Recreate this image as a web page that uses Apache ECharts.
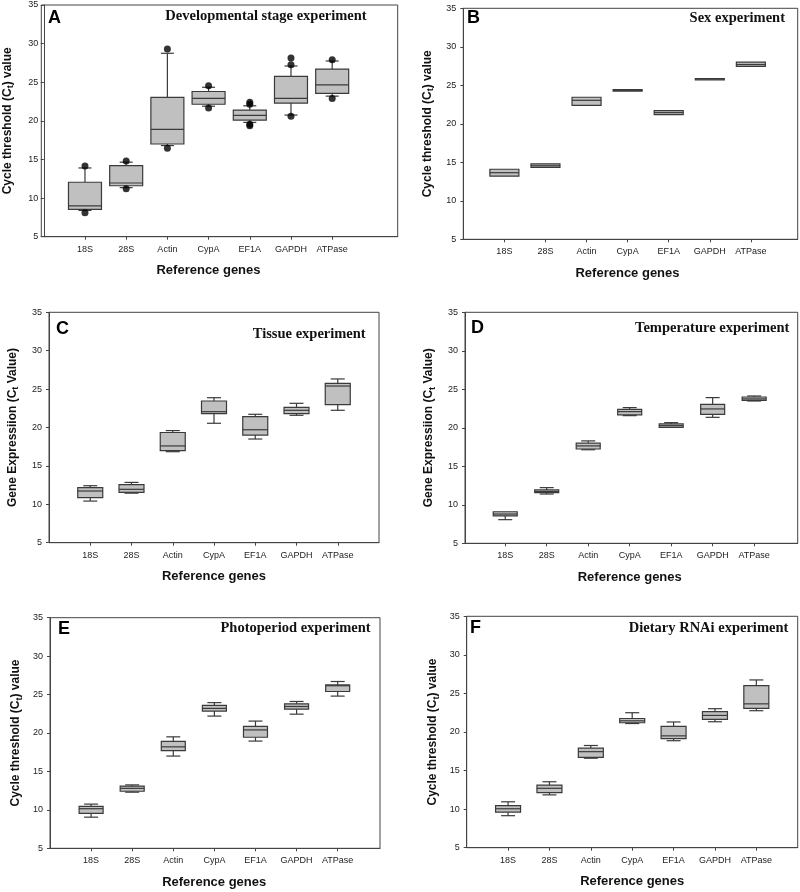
<!DOCTYPE html>
<html>
<head>
<meta charset="utf-8">
<script src="https://cdn.jsdelivr.net/npm/echarts@6/dist/echarts.min.js"></script>
<style>html,body{margin:0;padding:0;background:#fff}#c{width:800px;height:892px}</style>
</head>
<body>
<div id="c"></div>
<script>
// ---- data ----
const genes = ['18S', '28S', 'Actin', 'CypA', 'EF1A', 'GAPDH', 'ATPase'];
const yTicks = [5, 10, 15, 20, 25, 30, 35];

// each row: [lower whisker, Q1, median, Q3, upper whisker]
const devStageBoxes = [
  [8.4, 8.55, 9.0, 12.05, 13.9],
  [11.35, 11.6, 11.95, 14.2, 14.65],
  [16.8, 17.0, 18.9, 23.05, 28.75],
  [21.9, 22.15, 22.9, 23.8, 24.35],
  [19.8, 20.1, 20.7, 21.4, 21.95],
  [20.75, 22.3, 22.9, 25.75, 27.1],
  [23.2, 23.55, 24.65, 26.7, 27.75]
];
// outliers: [gene index (1-based), value]
const devStageOutliers = [
  [1, 14.15], [1, 8.1], [2, 14.8], [2, 11.2], [3, 29.3], [3, 16.45],
  [4, 24.55], [4, 21.65], [5, 22.4], [5, 22.15], [5, 19.35], [5, 19.55],
  [6, 28.15], [6, 27.25], [6, 20.6], [7, 27.9], [7, 22.9]
];
const sexBoxes = [
  [13.2, 13.2, 13.65, 14.1, 14.1],
  [14.35, 14.35, 14.55, 14.8, 14.8],
  [22.4, 22.4, 23.05, 23.45, 23.45],
  [24.25, 24.25, 24.35, 24.45, 24.45],
  [21.2, 21.2, 21.45, 21.7, 21.7],
  [25.72, 25.72, 25.8, 25.88, 25.88],
  [27.45, 27.45, 27.7, 28.0, 28.0]
];
const tissueBoxes = [
  [10.42, 10.86, 11.73, 12.16, 12.42],
  [11.45, 11.55, 11.95, 12.55, 12.85],
  [16.85, 17.0, 17.6, 19.35, 19.6],
  [20.55, 21.8, 22.06, 23.45, 23.88],
  [18.5, 19.02, 19.71, 21.41, 21.72],
  [21.59, 21.8, 22.24, 22.63, 23.15],
  [22.24, 22.97, 25.4, 25.75, 26.32]
];
const temperatureBoxes = [
  [8.07, 8.55, 8.8, 9.1, 9.15],
  [11.4, 11.58, 11.72, 11.93, 12.23],
  [17.15, 17.25, 17.65, 18.0, 18.3],
  [21.58, 21.67, 22.1, 22.4, 22.62],
  [20.0, 20.06, 20.28, 20.5, 20.67],
  [21.36, 21.75, 22.45, 23.05, 23.92],
  [23.48, 23.57, 23.75, 24.0, 24.13]
];
const photoperiodBoxes = [
  [9.05, 9.55, 10.15, 10.45, 10.75],
  [12.3, 12.42, 12.8, 13.1, 13.25],
  [17.0, 17.7, 18.2, 18.9, 19.5],
  [22.2, 22.85, 23.2, 23.6, 23.95],
  [18.95, 19.45, 20.4, 20.85, 21.55],
  [22.45, 23.1, 23.45, 23.8, 24.1],
  [24.8, 25.4, 26.15, 26.25, 26.7]
];
const rnaiBoxes = [
  [9.15, 9.6, 10.05, 10.45, 10.95],
  [11.85, 12.15, 12.7, 13.1, 13.55],
  [16.6, 16.7, 17.45, 17.9, 18.25],
  [21.1, 21.2, 21.45, 21.75, 22.5],
  [18.87, 19.13, 19.5, 20.73, 21.3],
  [21.33, 21.64, 22.15, 22.63, 23.02],
  [22.76, 23.07, 23.65, 26.0, 26.75]
];

// ---- layout ----
const ctName = '{n|Cycle threshold (C}{s|t}{n|) value}';
const geName = '{n|Gene Expressiion (C}{s|t}{n| Value)}';
const panels = [
  {letter: 'A', title: 'Developmental stage experiment', yName: ctName, boxes: devStageBoxes, outliers: devStageOutliers,
   l: 41.3, r: 397.7, t: 5, b: 236.7, xmin: -0.06, xmax: 8.59, boxW: 33, capW: 13, yGap: 26, xGap: 27, ylm: 3, xShift: 11,
   tx: 366.7, ty: 16.7, lx: 48, ly: 18},
  {letter: 'B', title: 'Sex experiment', yName: ctName, boxes: sexBoxes, outliers: [],
   l: 463.3, r: 797.7, t: 8.3, b: 239.3, xmin: 0.0, xmax: 8.14, boxW: 29, capW: 0, yGap: 28, xGap: 28, ylm: 7, xShift: 3,
   tx: 785, ty: 18.3, lx: 467, ly: 18},
  {letter: 'C', title: 'Tissue experiment', yName: geName, boxes: tissueBoxes, outliers: [],
   l: 49, r: 379, t: 312.3, b: 542.7, xmin: 0.0, xmax: 8.0, boxW: 25, capW: 14, yGap: 28.5, xGap: 27, ylm: 7, xShift: 0,
   tx: 365.7, ty: 334.3, lx: 56, ly: 329},
  {letter: 'D', title: 'Temperature experiment', yName: geName, boxes: temperatureBoxes, outliers: [],
   l: 465, r: 797.7, t: 312.3, b: 543.3, xmin: 0.03, xmax: 8.05, boxW: 24, capW: 14, yGap: 28, xGap: 28, ylm: 7, xShift: 1.6,
   tx: 789.3, ty: 328.3, lx: 471, ly: 328},
  {letter: 'E', title: 'Photoperiod experiment', yName: ctName, boxes: photoperiodBoxes, outliers: [],
   l: 50, r: 380, t: 617.7, b: 848.3, xmin: 0.0, xmax: 8.03, boxW: 24, capW: 14, yGap: 26, xGap: 28, ylm: 7, xShift: 0.8,
   tx: 370.7, ty: 628.3, lx: 58, ly: 629},
  {letter: 'F', title: 'Dietary RNAi experiment', yName: ctName, boxes: rnaiBoxes, outliers: [],
   l: 466.7, r: 797.7, t: 616.3, b: 847.7, xmin: 0.0, xmax: 8.0, boxW: 25, capW: 14, yGap: 26, xGap: 27, ylm: 7, xShift: 0,
   tx: 788.3, ty: 628.3, lx: 470, ly: 628}
];

const LINE = '#3a3a3a';
const FILL = '#c0c0c0';
const AXC = '#444';

function boxRenderer(boxW, capW) {
  return function (params, api) {
    const x = api.value(0);
    const pLo = api.coord([x, api.value(1)]);
    const pQ1 = api.coord([x, api.value(2)]);
    const pMd = api.coord([x, api.value(3)]);
    const pQ3 = api.coord([x, api.value(4)]);
    const pHi = api.coord([x, api.value(5)]);
    const cx = pMd[0];
    const st = {stroke: LINE, lineWidth: 1.2, fill: null};
    const children = [];
    if (pHi[1] < pQ3[1] - 0.5) {
      children.push({type: 'line', shape: {x1: cx, y1: pHi[1], x2: cx, y2: pQ3[1]}, style: st});
      children.push({type: 'line', shape: {x1: cx - capW / 2, y1: pHi[1], x2: cx + capW / 2, y2: pHi[1]}, style: st});
    }
    if (pLo[1] > pQ1[1] + 0.5) {
      children.push({type: 'line', shape: {x1: cx, y1: pQ1[1], x2: cx, y2: pLo[1]}, style: st});
      children.push({type: 'line', shape: {x1: cx - capW / 2, y1: pLo[1], x2: cx + capW / 2, y2: pLo[1]}, style: st});
    }
    children.push({type: 'rect', shape: {x: cx - boxW / 2, y: pQ3[1], width: boxW, height: Math.max(pQ1[1] - pQ3[1], 1.5)},
      style: {fill: FILL, stroke: LINE, lineWidth: 1.2}});
    children.push({type: 'line', shape: {x1: cx - boxW / 2, y1: pMd[1], x2: cx + boxW / 2, y2: pMd[1]}, style: st});
    return {type: 'group', children: children};
  };
}

const grid = [], xAxis = [], yAxis = [], series = [], graphic = [];
panels.forEach((p, i) => {
  grid.push({left: p.l, top: p.t, width: p.r - p.l, height: p.b - p.t, show: true,
    borderColor: AXC, borderWidth: 1, backgroundColor: 'transparent'});
  xAxis.push({
    type: 'value', gridIndex: i, min: p.xmin, max: p.xmax,
    name: 'Reference genes', nameLocation: 'middle', nameGap: p.xGap,
    nameTextStyle: {fontFamily: 'Liberation Sans', fontWeight: 'bold', fontSize: 13, color: '#111',
      padding: [0, p.xShift * 2, 0, 0]},
    axisLine: {show: true, lineStyle: {color: AXC, width: 1}},
    axisTick: {show: true, customValues: genes.map((g, k) => k + 1), length: 3, inside: false, lineStyle: {color: AXC}},
    axisLabel: {customValues: genes.map((g, k) => k + 1), formatter: v => genes[Math.round(v) - 1] || '',
      fontFamily: 'Liberation Sans', fontSize: 9, color: '#222', margin: 8},
    splitLine: {show: false}
  });
  yAxis.push({
    type: 'value', gridIndex: i, min: 5, max: 35, interval: 5,
    name: p.yName, nameLocation: 'middle', nameGap: p.yGap,
    nameTextStyle: {rich: {
      n: {fontFamily: 'Liberation Sans', fontWeight: 'bold', fontSize: 12, color: '#111', lineHeight: 16},
      s: {fontFamily: 'Liberation Sans', fontWeight: 'bold', fontSize: 9, color: '#111', verticalAlign: 'bottom', lineHeight: 16}
    }},
    axisLine: {show: true, lineStyle: {color: AXC, width: 1}},
    axisTick: {show: true, length: 3, inside: false, lineStyle: {color: AXC}},
    axisLabel: {fontFamily: 'Liberation Sans', fontSize: 9, color: '#222', margin: p.ylm,
      formatter: v => (yTicks.indexOf(v) >= 0 ? String(v) : '')},
    splitLine: {show: false}
  });
  series.push({
    type: 'custom', xAxisIndex: i, yAxisIndex: i,
    renderItem: boxRenderer(p.boxW, p.capW),
    encode: {x: 0, y: [1, 2, 3, 4, 5]},
    data: p.boxes.map((b, k) => [k + 1].concat(b)),
    z: 2, silent: true
  });
  if (p.outliers.length) {
    series.push({
      type: 'scatter', xAxisIndex: i, yAxisIndex: i,
      data: p.outliers, symbol: 'circle', symbolSize: 7,
      itemStyle: {color: '#000'}, z: 3, silent: true
    });
  }
  graphic.push({type: 'text', x: p.tx, y: p.ty, style: {
    text: p.title, font: 'bold 14.5px "Liberation Serif"', fill: '#111',
    align: 'right', textAlign: 'right', verticalAlign: 'middle', textVerticalAlign: 'middle'}});
  graphic.push({type: 'text', x: p.lx, y: p.ly, style: {
    text: p.letter, font: 'bold 18px "Liberation Sans"', fill: '#000',
    align: 'left', textAlign: 'left', verticalAlign: 'middle', textVerticalAlign: 'middle'}});
});

const chart = echarts.init(document.getElementById('c'), null, {renderer: 'canvas'});
chart.setOption({
  animation: false,
  backgroundColor: '#fff',
  grid: grid, xAxis: xAxis, yAxis: yAxis, series: series, graphic: graphic
});
</script>
</body>
</html>
